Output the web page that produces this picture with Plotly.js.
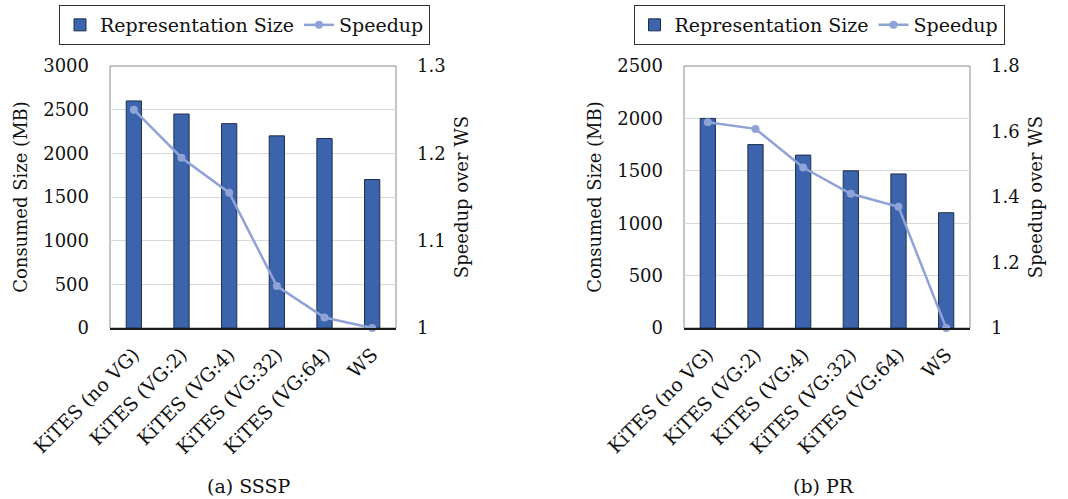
<!DOCTYPE html>
<html>
<head>
<meta charset="utf-8">
<script src="https://cdn.plot.ly/plotly-3.0.1.min.js"></script>
<style>html,body{margin:0;padding:0;background:#fff;}#chart{width:1068px;height:499px;}</style>
</head>
<body>
<div id="chart"></div>
<script>
const categories = ["KiTES (no VG)", "KiTES (VG:2)", "KiTES (VG:4)", "KiTES (VG:32)", "KiTES (VG:64)", "WS"];
const ssspSize = [2600, 2450, 2340, 2200, 2170, 1700];
const ssspSpeedup = [1.25, 1.195, 1.155, 1.048, 1.012, 1.0];
const prSize = [2000, 1750, 1650, 1500, 1470, 1100];
const prSpeedup = [1.628, 1.608, 1.49, 1.41, 1.37, 1.0];

const FONT = "DejaVu Serif";
const barColor = "#3b64ad";
const barLine = "#1f2d4d";
const lineColor = "#8fa3d7";

function barTrace(y, xa, ya, leg) {
  return {type: "bar", x: categories, y: y, xaxis: xa, yaxis: ya, name: "Representation Size",
    width: 0.32, marker: {color: barColor, line: {color: barLine, width: 1}}, legend: leg, cliponaxis: false};
}
function lineTrace(y, xa, ya, leg) {
  return {type: "scatter", mode: "lines+markers", x: categories, y: y, xaxis: xa, yaxis: ya, name: "Speedup",
    line: {color: lineColor, width: 2.5}, marker: {color: lineColor, size: 8}, legend: leg, cliponaxis: false};
}

const data = [
  barTrace(ssspSize, "x", "y", "legend"),
  lineTrace(ssspSpeedup, "x", "y2", "legend"),
  barTrace(prSize, "x2", "y3", "legend2"),
  lineTrace(prSpeedup, "x2", "y4", "legend2")
];

const tickFont = {family: FONT, size: 18, color: "#111"};
const xTickFont = {family: FONT, size: 19, color: "#111"};
const titleFont = {family: FONT, size: 18, color: "#111"};

function xAxis(dom, anchor) {
  return {domain: dom, anchor: anchor, type: "category", tickangle: -45, tickfont: xTickFont,
    showline: true, linecolor: "#1a1a1a", linewidth: 2, mirror: false, ticks: "", showgrid: false,
    ticklabelstandoff: 6, automargin: false, fixedrange: true};
}
function yLeft(dom, anchor, range, dtick, title) {
  return {domain: dom, anchor: anchor, range: range, dtick: dtick, tickfont: tickFont,
    showgrid: true, gridcolor: "#d9d9d9", gridwidth: 1, zeroline: false,
    showline: false, ticks: "", ticklabelstandoff: 20,
    title: {text: title, font: titleFont, standoff: 10}, automargin: false};
}
function yRight(overlay, anchor, range, dtick, title) {
  return {overlaying: overlay, anchor: anchor, side: "right", range: range, dtick: dtick, tickfont: tickFont,
    showgrid: false, zeroline: false, showline: false, ticks: "",
    ticklabelstandoff: 20, title: {text: title, font: titleFont, standoff: 10}, automargin: false};
}
function frame(xr, yr) {
  return {type: "rect", xref: xr + " domain", yref: yr + " domain", x0: 0, x1: 1, y0: 0, y1: 1,
    line: {color: "#8c8c8c", width: 1}, fillcolor: "rgba(0,0,0,0)", layer: "below"};
}

const yDom = [1 - 328/499, 1 - 66/499];
const legFont = {family: FONT, size: 19, color: "#111"};
const layout = {
  width: 1068, height: 499,
  margin: {l: 0, r: 0, t: 0, b: 0},
  paper_bgcolor: "#fff", plot_bgcolor: "#fff",
  font: {family: FONT, color: "#111"},
  xaxis: xAxis([110/1068, 396/1068], "y"),
  yaxis: yLeft(yDom, "x", [0, 3000], 500, "Consumed Size (MB)"),
  yaxis2: yRight("y", "x", [1, 1.3], 0.1, "Speedup over WS"),
  xaxis2: xAxis([684/1068, 970/1068], "y3"),
  yaxis3: yLeft(yDom, "x2", [0, 2500], 500, "Consumed Size (MB)"),
  yaxis4: yRight("y3", "x2", [1, 1.8], 0.2, "Speedup over WS"),
  shapes: [frame("x", "y"), frame("x2", "y3")],
  legend: {orientation: "h", x: 244.5/1068, xanchor: "center", y: 1 - 5/499, yanchor: "top",
    bordercolor: "#333", borderwidth: 1, font: legFont, bgcolor: "#fff",
    itemwidth: 30, traceorder: "normal"},
  legend2: {orientation: "h", x: 819/1068, xanchor: "center", y: 1 - 5/499, yanchor: "top",
    bordercolor: "#333", borderwidth: 1, font: legFont, bgcolor: "#fff",
    itemwidth: 30, traceorder: "normal"},
  annotations: [
    {text: "(a) SSSP", xref: "paper", yref: "paper", x: 249/1068, y: 1 - 486/499, xanchor: "center", yanchor: "middle",
      showarrow: false, font: {family: FONT, size: 19, color: "#111"}},
    {text: "(b) PR", xref: "paper", yref: "paper", x: 823/1068, y: 1 - 486/499, xanchor: "center", yanchor: "middle",
      showarrow: false, font: {family: FONT, size: 19, color: "#111"}}
  ]
};

Plotly.newPlot("chart", data, layout, {displayModeBar: false, staticPlot: true});
</script>
</body>
</html>
